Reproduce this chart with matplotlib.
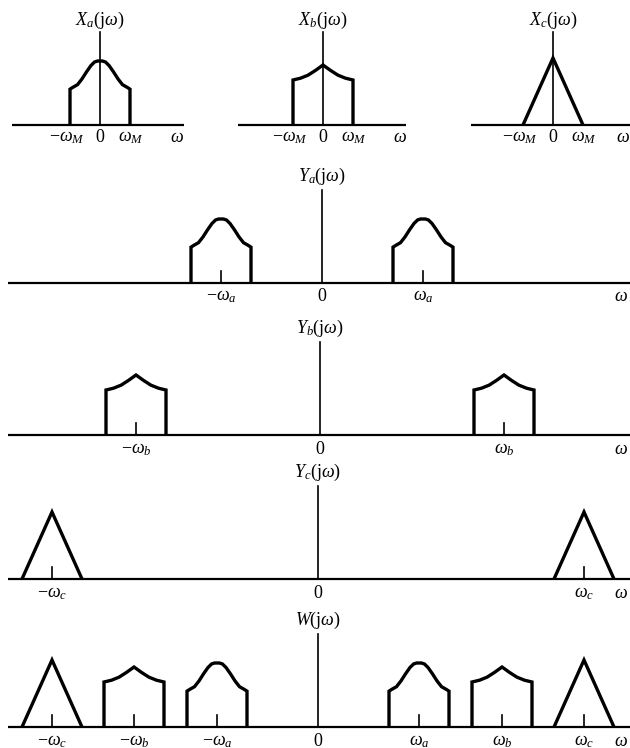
import matplotlib
matplotlib.use("Agg")
import matplotlib.pyplot as plt
import numpy as np

plt.rcParams['mathtext.fontset'] = 'custom'
plt.rcParams['mathtext.rm'] = 'Liberation Serif'
plt.rcParams['mathtext.it'] = 'Liberation Serif:italic'
plt.rcParams['mathtext.bf'] = 'Liberation Serif:bold'
plt.rcParams['font.family'] = ['Liberation Serif', 'DejaVu Serif']

W_PX, H_PX = 630, 748

# ---- data (frequency units are arbitrary, schematic) ----
wM = 30
wa = 101
wb = 184
wc = 266
axis_height = 93
tick_height = 12

# spectral shapes on normalised frequency u in [-1, 1], height relative to peak
shape_a_u = [-1, -1, -0.9, -0.75, -0.6, -0.45, -0.3, -0.18, -0.08, 0, 0.08, 0.18, 0.3, 0.45, 0.6, 0.75, 0.9, 1, 1]
shape_a_h = [0, 0.56, 0.59, 0.63, 0.72, 0.83, 0.93, 0.985, 1.0, 1.0, 1.0, 0.985, 0.93, 0.83, 0.72, 0.63, 0.59, 0.56, 0]
peak_a = 64

shape_b_u = [-1, -1, -0.75, -0.5, -0.25, 0, 0.25, 0.5, 0.75, 1, 1]
shape_b_h = [0, 0.75, 0.78, 0.83, 0.91, 1.0, 0.91, 0.83, 0.78, 0.75, 0]
peak_b = 60

shape_c_u = [-1, 0, 1]
shape_c_h = [0, 1.0, 0]
peak_c = 67

shapes = {
    'a': (shape_a_u, shape_a_h, peak_a),
    'b': (shape_b_u, shape_b_h, peak_b),
    'c': (shape_c_u, shape_c_h, peak_c),
}

# top panels: key, label, axis pixel, panel left/right px, baseline px, line start/end px, omega-label px
top_panels = [
    ('a', r'$X_a(\mathrm{j}\omega)$', 100, 0, 210, 125, 12, 184, 177),
    ('b', r'$X_b(\mathrm{j}\omega)$', 323, 210, 420, 125, 238, 406, 400),
    ('c', r'$X_c(\mathrm{j}\omega)$', 553, 420, 630, 125, 471, 630, 623),
]
top_tick_labels = [r'$-\omega_M$', r'$0$', r'$\omega_M$']

rows = [
    (r'$Y_a(\mathrm{j}\omega)$', 283, [('a', -wa, r'$-\omega_a$'), ('a', wa, r'$\omega_a$')]),
    (r'$Y_b(\mathrm{j}\omega)$', 435, [('b', -wb, r'$-\omega_b$'), ('b', wb, r'$\omega_b$')]),
    (r'$Y_c(\mathrm{j}\omega)$', 579, [('c', -wc, r'$-\omega_c$'), ('c', wc, r'$\omega_c$')]),
    (r'$W(\mathrm{j}\omega)$', 727, [('c', -wc, r'$-\omega_c$'), ('b', -wb, r'$-\omega_b$'),
                                     ('a', -wa, r'$-\omega_a$'), ('a', wa, r'$\omega_a$'),
                                     ('b', wb, r'$\omega_b$'), ('c', wc, r'$\omega_c$')]),
]
row_axis_px = [322, 320, 318, 318]

fig = plt.figure(figsize=(W_PX / 100, H_PX / 100), dpi=100)

FS = 13
LW_SHAPE = 2.4
LW_AX = 1.2
LW_BASE = 1.6


def make_axes(left_px, right_px, base_px, zero_px):
    ax = fig.add_axes([left_px / W_PX, (H_PX - base_px) / H_PX,
                       (right_px - left_px) / W_PX, 100 / H_PX])
    ax.set_xlim(left_px - zero_px, right_px - zero_px)
    ax.set_ylim(0, 100)
    ax.axis('off')
    return ax


def draw_shape(ax, key, center, half):
    u, h, pk = shapes[key]
    x = center + half * np.asarray(u, dtype=float)
    y = pk * np.asarray(h, dtype=float)
    ax.plot(x, y, color='black', lw=LW_SHAPE, solid_joinstyle='miter',
            solid_capstyle='butt', clip_on=False, zorder=3)


# ---- top row ----
for (key, label, zero_px, lpx, rpx, base, ls, le, wpx) in top_panels:
    ax = make_axes(lpx, rpx, base, zero_px)
    ax.plot([ls - zero_px, le - zero_px], [0, 0], color='black', lw=LW_BASE,
            clip_on=False, solid_capstyle='butt')
    ax.plot([0, 0], [0, axis_height], color='black', lw=LW_AX, clip_on=False, zorder=4)
    draw_shape(ax, key, 0, wM)
    ax.text(0, axis_height + 12, label, ha='center', va='center', fontsize=FS, clip_on=False)
    tick_pos = [-wM - 3, 0, wM + 1]
    for tp, tl in zip(tick_pos, top_tick_labels):
        ax.text(tp, -13, tl, ha='center', va='center', fontsize=FS, clip_on=False)
    ax.text(wpx - zero_px, -13, r'$\omega$', ha='center', va='center', fontsize=FS, clip_on=False)

# ---- full-width rows ----
for (label, base, items), zpx in zip(rows, row_axis_px):
    ax = make_axes(0, W_PX, base, zpx)
    ax.plot([8 - zpx, W_PX - zpx], [0, 0], color='black', lw=LW_BASE, clip_on=False,
            solid_capstyle='butt')
    ax.plot([0, 0], [0, axis_height], color='black', lw=LW_AX, clip_on=False, zorder=4)
    ax.text(0, axis_height + 14, label, ha='center', va='center', fontsize=FS, clip_on=False)
    ax.text(0, -14, r'$0$', ha='center', va='center', fontsize=FS, clip_on=False)
    ax.text(621 - zpx, -14, r'$\omega$', ha='center', va='center', fontsize=FS, clip_on=False)
    for key, c, tl in items:
        draw_shape(ax, key, c, wM)
        ax.plot([c, c], [0, tick_height], color='black', lw=LW_AX, clip_on=False)
        ax.text(c, -14, tl, ha='center', va='center', fontsize=FS, clip_on=False)

fig.savefig('out.png', dpi=100, facecolor='white')
